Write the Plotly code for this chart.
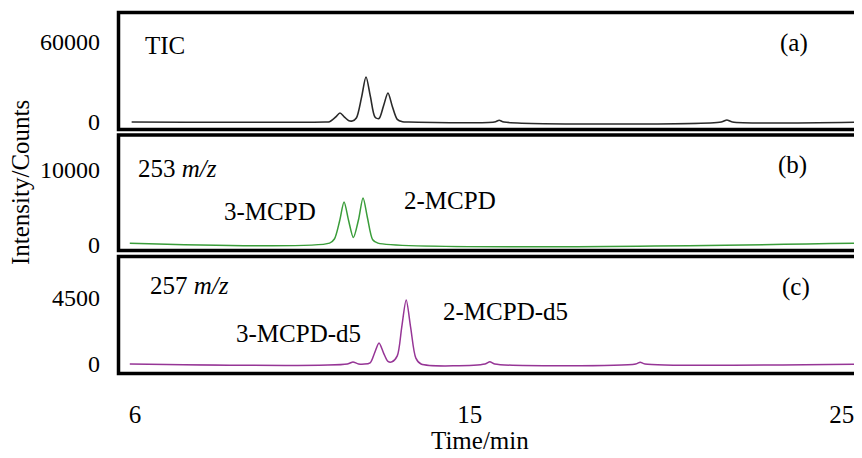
import plotly.graph_objects as go

# ---------------- data ----------------
tic_time = [5.91, 11.11, 11.23, 11.39, 11.51, 11.63, 11.75, 11.84, 11.95, 12.09, 12.21, 12.33,
            12.45, 12.56, 12.68, 12.80, 12.92, 13.05, 13.19, 13.36, 15.66, 15.79, 15.92,
            21.76, 21.91, 22.06, 25.70]
tic_counts = [0, 0, 250, 3600, 6750, 3700, 1000, 800, 3000, 18500, 33750, 18800,
              3800, 2600, 12000, 21750, 11500, 2000, 200, 0, 0, 1300, 0,
              0, 1500, 0, 0]

mz253_time = [5.86, 11.23, 11.36, 11.50, 11.62, 11.74, 11.87, 12.01, 12.13, 12.25, 12.39, 12.53, 25.70]
mz253_counts = [250, 250, 800, 3200, 5730, 3300, 1000, 3400, 6270, 3600, 700, 250, 250]

mz257_time = [5.86, 11.71, 11.86, 12.01, 12.32, 12.44, 12.56, 12.68, 12.80, 12.91, 13.05, 13.17,
              13.29, 13.41, 13.55, 13.69, 15.41, 15.54, 15.67, 19.46, 19.58, 19.71, 25.70]
mz257_counts = [0, 0, 140, 0, 80, 750, 1430, 760, 180, 150, 550, 2500,
                4365, 2500, 400, 0, 0, 150, 0, 0, 120, 0, 0]

x_tick_vals = [6, 15, 25]
x_tick_text = ["6", "15", "25"]
y_ticks_a = [0, 60000]
y_ticks_b = [0, 10000]
y_ticks_c = [0, 4500]

# ---------------- layout helpers ----------------
OFF = 8                      # page body margin
W, H = 862 - OFF, 458 - OFF
L, R, T = 118 - OFF, 0, 12 - OFF
B = H - (374 - OFF)
FONT = "Times New Roman, Liberation Serif, DejaVu Serif, serif"
FS = 25


def xp(p):
    return (p - OFF - L) / (W - L - R)


def yp(p):
    return (H - B - (p - OFF)) / (H - T - B)


panels = [(12.5, 129.5), (135.0, 250.5), (256.5, 373.5)]

fig = go.Figure()
line_style = dict(shape="spline", smoothing=0.8)
fig.add_trace(go.Scatter(x=tic_time, y=tic_counts, mode="lines", xaxis="x", yaxis="y",
                         line=dict(color="#2a2a2a", width=1.6, **line_style), showlegend=False))
fig.add_trace(go.Scatter(x=mz253_time, y=mz253_counts, mode="lines", xaxis="x2", yaxis="y2",
                         line=dict(color="#3a9d3a", width=1.5, **line_style), showlegend=False))
fig.add_trace(go.Scatter(x=mz257_time, y=mz257_counts, mode="lines", xaxis="x3", yaxis="y3",
                         line=dict(color="#963596", width=1.5, **line_style), showlegend=False))

xrange = [5.543, 25.543]
common_x = dict(range=xrange, showgrid=False, zeroline=False, showline=False, domain=[0, 1])
fig.update_layout(
    xaxis=dict(anchor="y", showticklabels=False, **common_x),
    xaxis2=dict(anchor="y2", matches="x", showticklabels=False, **common_x),
    xaxis3=dict(anchor="y3", matches="x", tickvals=x_tick_vals, ticktext=x_tick_text,
                ticks="", ticklabelstandoff=23, tickfont=dict(family=FONT, size=FS, color="black"),
                **common_x),
)

ycfg = [
    (y_ticks_a, [-5625, 82125], panels[0]),
    (y_ticks_b, [-733, 14667], panels[1]),
    (y_ticks_c, [-648, 7330], panels[2]),
]
for i, (tv, rng, (ptop, pbot)) in enumerate(ycfg):
    key = "yaxis" if i == 0 else f"yaxis{i + 1}"
    fig.layout[key] = dict(
        domain=[yp(pbot), yp(ptop)], range=rng, tickvals=tv, ticktext=[str(v) for v in tv],
        anchor="x" if i == 0 else f"x{i + 1}", showgrid=False, zeroline=False, showline=False,
        ticks="", ticklabelstandoff=17, tickfont=dict(family=FONT, size=FS - 1, color="black"),
    )

# panel frames
for ptop, pbot in panels:
    fig.add_shape(type="rect", xref="paper", yref="paper", x0=xp(118.5), x1=1.05,
                  y0=yp(pbot), y1=yp(ptop), line=dict(color="black", width=3.5),
                  fillcolor="rgba(0,0,0,0)", layer="above")


def note(text, px, py, xanchor="center", size=FS, angle=0):
    fig.add_annotation(text=text, x=xp(px), y=yp(py), xref="paper", yref="paper",
                       xanchor=xanchor, yanchor="middle", showarrow=False, textangle=angle,
                       font=dict(family=FONT, size=size, color="black"))


note("TIC", 143, 45, xanchor="left")
note("(a)", 794, 43)
note("253 <i>m/z</i>", 136, 169, xanchor="left")
note("(b)", 792, 165)
note("3-MCPD", 270, 212)
note("2-MCPD", 450, 200)
note("257 <i>m/z</i>", 148, 285, xanchor="left")
note("(c)", 796, 287)
note("3-MCPD-d5", 298, 333)
note("2-MCPD-d5", 505, 311)
note("Intensity/Counts", 21, 183, angle=-90)
note("Time/min", 480, 440)

fig.update_layout(width=W, height=H, margin=dict(l=L, r=R, t=T, b=B),
                  paper_bgcolor="white", plot_bgcolor="white")
fig.write_html("out.html")
